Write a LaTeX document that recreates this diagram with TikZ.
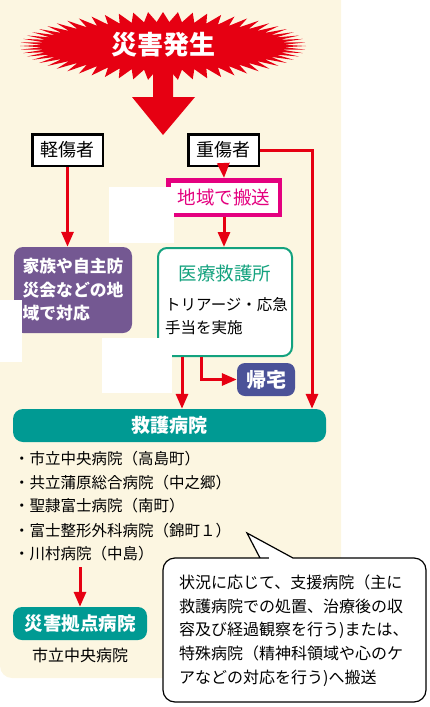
\documentclass[tikz,border=0pt]{standalone}
\usepackage{fontspec}
\setmainfont{Noto Sans CJK JP}
\usetikzlibrary{arrows.meta,calc}
\definecolor{cream}{HTML}{FCF6E1}
\definecolor{jred}{HTML}{E60012}
\definecolor{jmag}{HTML}{E4007F}
\definecolor{jpur}{HTML}{745892}
\definecolor{jgreen}{HTML}{13A27E}
\definecolor{jnavy}{HTML}{4B5298}
\definecolor{jteal}{HTML}{009A93}
\tikzset{
  rline/.style={draw=jred, line width=3pt},
  rarrow/.style={rline, -{Triangle[width=12pt,length=15pt]}},
  kbox/.style={draw=black, line width=2.5pt, fill=white, minimum width=70.5pt, minimum height=31.5pt, inner sep=0pt, font=\fontsize{18}{20}\selectfont},
  fillbox/.style={inner sep=0pt, text=white, font=\bfseries\fontsize{19}{22}\selectfont},
  listitem/.style={anchor=base west, inner sep=0pt, font=\fontsize{15.5}{18}\selectfont},
}
\begin{document}
\begin{tikzpicture}[x=1pt,y=-1pt]
\useasboundingbox (0,0) rectangle (430,707);
% cream panel
\fill[cream, rounded corners=12pt] (0,-20) rectangle (341,678);
% starburst
\fill[jred] plot[domain=0:357, samples=120]
  ({163+(132+11*(1-2*mod(round(\x/3),2)))*cos(\x)}, {46+(29+5*(1-2*mod(round(\x/3),2)))*sin(\x)}) -- cycle;
\fill[jred] (153,70) -- (173,70) -- (173,97) -- (195,97) -- (163,135) -- (132,97) -- (153,97) -- cycle;
\node[fillbox, font=\bfseries\fontsize{26}{28}\selectfont] (start) at (163,45) {災害発生};
% top boxes
\node[kbox] (kei) at (67.5,150) {軽傷者};
\node[kbox] (ju) at (223.5,150) {重傷者};
\node[draw=jmag, line width=4.5pt, fill=white, minimum width=111.5pt, minimum height=34.5pt, inner sep=0pt, text=jmag, font=\fontsize{18.5}{20}\selectfont] (chiiki) at (224,197.5) {地域で搬送};
% family box
\node[fill=jpur, rounded corners=9pt, minimum width=118pt, minimum height=86pt, inner sep=0pt, text=white, align=left, font=\bfseries\fontsize{16.8}{23.5}\selectfont] (fam) at (73,290) {家族や自主防\\災会などの地\\域で対応};
% medical relief station
\node[draw=jgreen, line width=2pt, fill=white, rounded corners=9pt, minimum width=134pt, minimum height=108pt] (iryo) at (225,302) {};
\node[text=jgreen, inner sep=0pt, font=\fontsize{18.5}{20}\selectfont] (iryot) at (225,273) {医療救護所};
\node[anchor=west, inner sep=0pt, align=left, font=\fontsize{15.5}{23}\selectfont] (iryob) at (165,316.5) {トリアージ・応急\\手当を実施};
% kitaku
\node[fill=jnavy, rounded corners=8pt, minimum width=58pt, minimum height=33pt, fillbox, font=\bfseries\fontsize{20}{22}\selectfont] (kitaku) at (266,379.5) {帰宅};
% hospital bar
\node[fill=jteal, rounded corners=10pt, minimum width=313pt, minimum height=33pt, fillbox] (kyugo) at (169.5,425.5) {救護病院};
% list
\node[listitem] (h1) at (14,464) {・市立中央病院（高島町）};
\node[listitem] (h2) at (14,488) {・共立蒲原総合病院（中之郷）};
\node[listitem] (h3) at (14,511) {・聖隷富士病院（南町）};
\node[listitem] (h4) at (14,536) {・富士整形外科病院（錦町１）};
\node[listitem] (h5) at (14,559) {・川村病院（中島）};
% disaster base hospital
\node[fill=jteal, rounded corners=9pt, minimum width=134pt, minimum height=33pt, fillbox, font=\bfseries\fontsize{18.5}{22}\selectfont] (saigai) at (80,623.5) {災害拠点病院};
\node[inner sep=0pt, font=\fontsize{16}{18}\selectfont] (shiritsu) at (80,655) {市立中央病院};
% connectors
\draw[rarrow] (kei.south) -- (kei.south |- fam.north);
\draw[rarrow] (ju.south) -- (chiiki.north);
\draw[rarrow] (chiiki.south) -- (chiiki.south |- iryo.north);
\draw[rarrow] (ju.east) -| ($(kyugo.north)+(142.5,0)$);
\draw[rarrow] ([xshift=-43pt]iryo.south) -- ([xshift=-43pt]iryo.south |- kyugo.north);
\draw[rarrow] ([xshift=-24pt]iryo.south) |- (kitaku.west);
\coordinate (c5) at (80,567);
\draw[rarrow] (c5) -- (saigai.north);
% white patches
\fill[white] (109,187) rectangle (174,243);
\fill[white] (0,300) rectangle (22,362);
\fill[white] (102,338) rectangle (172,393);
% callout
\draw[line width=1.2pt, fill=white] (276,558) [sharp corners] -- (260,558) -- (247,533) -- (293,558) [rounded corners=12pt] -- (426,558) -- (426,702) -- (163,702) -- (163,558) -- cycle;
\node[anchor=west, inner sep=0pt, align=left, font=\fontsize{16}{23.75}\selectfont] (note) at (179,630.5) {状況に応じて、支援病院（主に\\救護病院での処置、治療後の収\\容及び経過観察を行う)または、\\特殊病院（精神科領域や心のケ\\アなどの対応を行う)へ搬送};
\end{tikzpicture}
\end{document}
